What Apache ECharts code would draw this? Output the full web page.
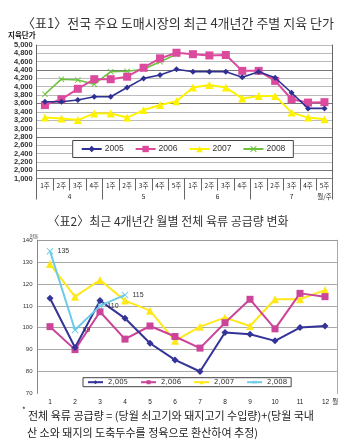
<!DOCTYPE html>
<html><head><meta charset="utf-8">
<script src="https://cdn.jsdelivr.net/npm/echarts@6/dist/echarts.min.js"></script>
<style>html,body{margin:0;padding:0;background:#fff}#c{width:350px;height:446px}</style>
</head><body><div id="c"></div>
<script>
// ---- Chart 1: weekly carcass price (지육 단가) ----
const weekLabels = ['1주','2주','3주','4주','1주','2주','3주','4주','5주','1주','2주','3주','4주','1주','2주','3주','4주','5주'];
const months = ['4','5','6','7'];
const weeksPerMonth = [4,5,4,5];
const price2005 = [3640,3640,3680,3760,3760,3980,4200,4280,4420,4360,4360,4360,4225,4360,4215,3855,3480,3480];
const price2006 = [3560,3700,3950,4180,4180,4240,4455,4680,4815,4780,4750,4760,4380,4380,4140,3700,3620,3630];
const price2007 = [3260,3240,3200,3360,3360,3260,3440,3560,3650,3980,4040,3980,3720,3780,3780,3380,3260,3220];
const price2008 = [3820,4180,4160,4060,4360,4370,4420,4600,4780,null,null,null,null,null,null,null,null,null];
const priceNames = ['2005','2006','2007','2008'];
const priceMin = 1800, priceMax = 5000, priceStep = 200;
const priceBottomLabel = '1,000';

// ---- Chart 2: monthly meat supply (천톤) ----
const supplyMonths = ['1','2','3','4','5','6','7','8','9','10','11','12'];
const supplyMonthUnit = '월';
const supply2005 = [113.5,91,112.4,104.3,92.9,85.3,80,97.8,97,94,100.1,100.8];
const supply2006 = [100.5,90,107.3,94.8,100.8,96,90.7,102.3,113,99.5,115.7,114.2];
const supply2007 = [129.1,114.2,121.8,112.4,107.8,94,100.5,104.6,100.8,113,113,117.2];
const supply2008 = [135,99,110,115];
const supplyNames = ['2,005','2,006','2,007','2,008'];

const fmt = v => String(v).replace(/\B(?=(\d{3})+(?!\d))/g, ',');

// month group axis (half-week resolution)
const totalWeeks = weeksPerMonth.reduce((a,b)=>a+b,0);
const monthAxisCats = [];
for (let i=0;i<=totalWeeks*2;i++) monthAxisCats.push('');
const monthTickIdx = [0];
let acc = 0;
months.forEach((m,i)=>{ monthAxisCats[acc*2+weeksPerMonth[i]] = m; acc += weeksPerMonth[i]; monthTickIdx.push(acc*2); });
monthAxisCats[totalWeeks*2-1] = '월/주';

const X_PATH = 'path://M0,1L1,0L5,4L9,0L10,1L6,5L10,9L9,10L5,6L1,10L0,9L4,5Z';
const c1 = ['#2e3192','#dc4a9e','#fff200','#6cc23c'];
const c2 = ['#333399','#cc4499','#ffe81a','#6ccbe8'];
const tickFont = 'Liberation Sans, Arial, sans-serif';
const kr = '"Noto Sans CJK KR", sans-serif';

const chart = echarts.init(document.getElementById('c'), null, {renderer:'canvas'});
chart.setOption({
  animation: false,
  backgroundColor: '#fff',
  graphic: [
    {type:'text', x:178, y:23, style:{text:'〈표1〉전국 주요 도매시장의 최근 4개년간 주별 지육 단가', font:'13px '+kr, fill:'#333', align:'center', verticalAlign:'middle'}},
    {type:'text', x:8, y:35, style:{text:'지육단가', font:'bold 7.5px '+kr, fill:'#222', align:'left', verticalAlign:'middle'}},
    {type:'text', x:168, y:221.5, style:{text:'〈표2〉최근 4개년간 월별 전체 육류 공급량 변화', font:'12px '+kr, fill:'#333', align:'center', verticalAlign:'middle'}},
    {type:'text', x:34, y:236, style:{text:'천톤', font:'5px '+kr, fill:'#333', align:'center', verticalAlign:'middle'}},
    {type:'text', x:22, y:410, style:{text:'*', font:'8px '+kr, fill:'#222', align:'left', verticalAlign:'middle'}},
    {type:'text', x:28, y:415.7, style:{text:'전체 육류 공급량 = (당월 쇠고기와 돼지고기 수입량)+(당월 국내', font:'11px '+kr, fill:'#222', align:'left', verticalAlign:'middle'}},
    {type:'text', x:27, y:433, style:{text:'산 소와 돼지의 도축두수를 정육으로 환산하여 추정)', font:'11px '+kr, fill:'#222', align:'left', verticalAlign:'middle'}}
  ],
  grid: [
    {left:36.7, top:45, width:296, height:133.5},
    {left:37.5, top:240.2, width:300, height:153.2}
  ],
  legend: [
    {data:priceNames, left:72.7, top:140.5, padding:[4,8], itemGap:11, itemWidth:20, itemHeight:8,
     backgroundColor:'#fff', borderColor:'#444', borderWidth:1, borderRadius:0,
     textStyle:{fontSize:8.5, fontFamily:tickFont, color:'#333', padding:[0,0,0,-2]}},
    {data:supplyNames, left:83, top:377.7, padding:[1,4], itemGap:12, itemWidth:15, itemHeight:5,
     backgroundColor:'#fff', borderColor:'#444', borderWidth:1, borderRadius:0,
     textStyle:{fontSize:7, fontFamily:'DejaVu Sans, sans-serif', color:'#333'}}
  ],
  xAxis: [
    {type:'category', gridIndex:0, position:'bottom', data:weekLabels, boundaryGap:true,
     axisLine:{show:true, lineStyle:{color:'#888', width:1}},
     axisTick:{show:true, interval:0, length:12, lineStyle:{color:'#666'}},
     axisLabel:{interval:0, margin:4, fontSize:6.5, color:'#222', fontFamily:kr}},
    {type:'category', gridIndex:0, position:'bottom', data:monthAxisCats, boundaryGap:false,
     axisLine:{show:false},
     axisTick:{show:true, interval:(i)=>monthTickIdx.includes(i), length:21, lineStyle:{color:'#666'}},
     axisLabel:{interval:(i,v)=>v!=='', margin:15, fontSize:6.5, color:'#222', fontFamily:kr}},
    {type:'category', gridIndex:1, position:'bottom', data:supplyMonths, boundaryGap:true,
     axisLine:{show:false}, axisTick:{show:false},
     axisLabel:{interval:0, margin:5, fontSize:6.5, color:'#222', fontFamily:tickFont,
       formatter:(v,i)=> i===supplyMonths.length-1 ? '{n|'+v+'}{m|'+supplyMonthUnit+'}' : v,
       rich:{n:{fontSize:6.5, color:'#222', fontFamily:tickFont, padding:[0,0,0,10]},
             m:{fontSize:6.5, color:'#222', fontFamily:kr, padding:[0,0,0,3]}}}}
  ],
  yAxis: [
    {type:'value', gridIndex:0, min:priceMin, max:priceMax, interval:priceStep,
     axisLine:{show:true, lineStyle:{color:'#666'}}, axisTick:{show:false},
     axisLabel:{fontSize:7.5, fontWeight:'bold', color:'#333', fontFamily:tickFont, margin:4,
       formatter:v=> v===priceMin ? priceBottomLabel : fmt(v)},
     splitLine:{show:true, lineStyle:{color:['#bbb','#777','#bbb','#bbb'], width:1}}},
    {type:'value', gridIndex:0, position:'right', min:priceMin, max:priceMax, interval:priceStep,
     axisLine:{show:true, lineStyle:{color:'#666'}}, axisTick:{show:false}, axisLabel:{show:false}, splitLine:{show:false}},
    {type:'value', gridIndex:1, min:70, max:140, interval:10,
     axisLine:{show:true, lineStyle:{color:'#888'}}, axisTick:{show:false},
     axisLabel:{fontSize:6, color:'#333', fontFamily:tickFont, margin:5},
     splitLine:{show:true, lineStyle:{color:['rgba(0,0,0,0)','#aaa','#aaa','#aaa','#aaa','#aaa','#aaa','#999'], width:1}}},
    {type:'value', gridIndex:1, position:'right', min:70, max:140, interval:10,
     axisLine:{show:true, lineStyle:{color:'#aaa'}}, axisTick:{show:false}, axisLabel:{show:false}, splitLine:{show:false}}
  ],
  series: [
    {name:priceNames[0], type:'line', xAxisIndex:0, yAxisIndex:0, data:price2005, color:c1[0], z:5,
     symbol:'diamond', symbolSize:6, lineStyle:{width:1.6}},
    {name:priceNames[1], type:'line', xAxisIndex:0, yAxisIndex:0, data:price2006, color:c1[1], z:4,
     symbol:'rect', symbolSize:8, lineStyle:{width:2}},
    {name:priceNames[2], type:'line', xAxisIndex:0, yAxisIndex:0, data:price2007, color:c1[2], z:3,
     symbol:'triangle', symbolSize:8, lineStyle:{width:2}},
    {name:priceNames[3], type:'line', xAxisIndex:0, yAxisIndex:0, data:price2008, color:c1[3], z:2,
     symbol:X_PATH, symbolSize:6, lineStyle:{width:1.6}},
    {name:supplyNames[0], type:'line', xAxisIndex:2, yAxisIndex:2, data:supply2005, color:c2[0], z:5,
     symbol:'diamond', symbolSize:7, lineStyle:{width:2}},
    {name:supplyNames[1], type:'line', xAxisIndex:2, yAxisIndex:2, data:supply2006, color:c2[1], z:4,
     symbol:'rect', symbolSize:7, lineStyle:{width:2}},
    {name:supplyNames[2], type:'line', xAxisIndex:2, yAxisIndex:2, data:supply2007, color:c2[2], z:3,
     symbol:'triangle', symbolSize:8, lineStyle:{width:2}},
    {name:supplyNames[3], type:'line', xAxisIndex:2, yAxisIndex:2, data:supply2008, color:c2[3], z:6,
     symbol:X_PATH, symbolSize:7, lineStyle:{width:2},
     label:{show:true, position:'right', distance:4, fontSize:7, color:'#333', fontFamily:tickFont}}
  ]
});
</script></body></html>
